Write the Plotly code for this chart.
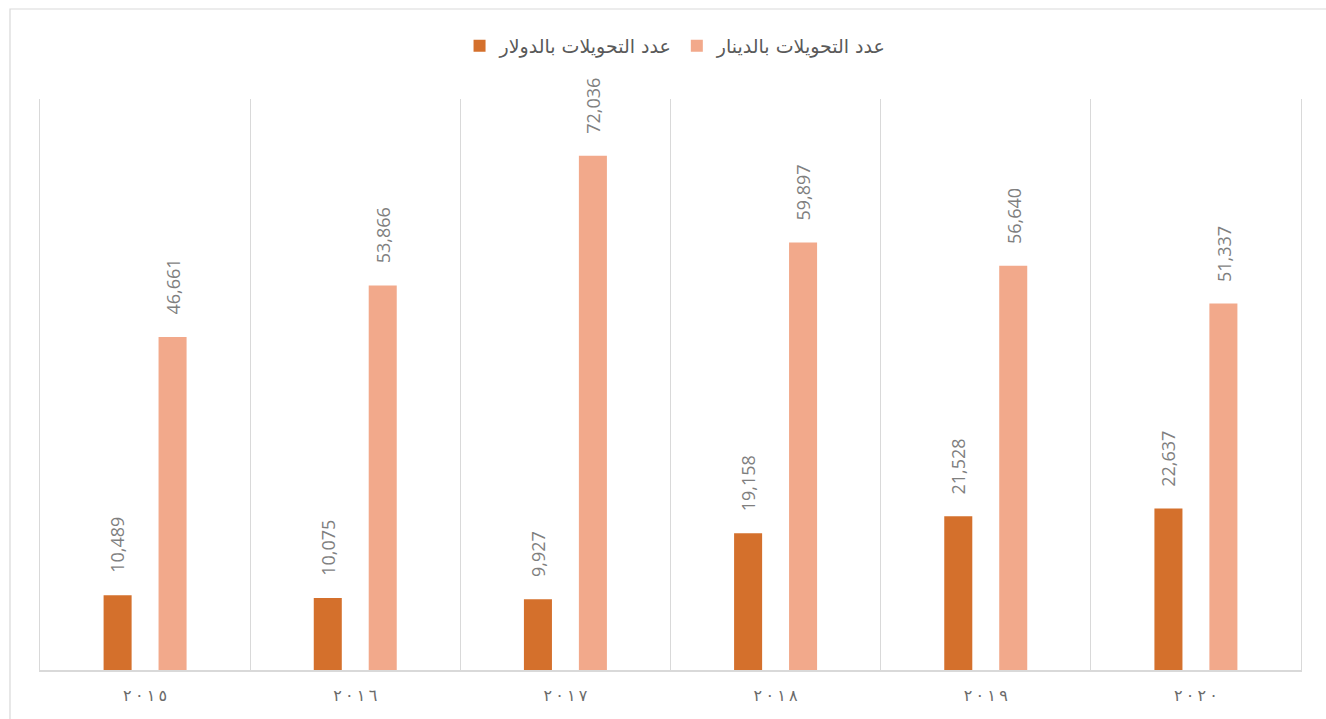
import plotly.graph_objects as go

# Yearly transfer counts
years = ["٢٠١٥", "٢٠١٦", "٢٠١٧", "٢٠١٨", "٢٠١٩", "٢٠٢٠"]
usd_transfers = [10489, 10075, 9927, 19158, 21528, 22637]
dinar_transfers = [46661, 53866, 72036, 59897, 56640, 51337]

usd_name = "عدد التحويلات بالدولار"
dinar_name = "عدد التحويلات بالدينار"

USD_COLOR = "#D4702C"
DINAR_COLOR = "#F2A98B"
GRID = "#D9D9D9"
LABEL_GRAY = "#7F7F7F"
TEXT_GRAY = "#595959"


def spaced(label):
    # open up the digit spacing; LRM marks keep the digits in reading order
    return "\u200e\u2009\u200e".join(label)


fig = go.Figure()
fig.add_trace(go.Bar(x=years, y=usd_transfers, name=usd_name,
                     marker=dict(color=USD_COLOR, line=dict(width=0))))
fig.add_trace(go.Bar(x=years, y=dinar_transfers, name=dinar_name,
                     marker=dict(color=DINAR_COLOR, line=dict(width=0))))

# Rotated value labels above each bar
annotations = []
for series, shift in ((usd_transfers, -27.5), (dinar_transfers, 27.5)):
    for yr, val in zip(years, series):
        annotations.append(dict(
            x=yr, y=val, xref="x", yref="y", xshift=shift, yshift=20,
            text=f"{val:,}", textangle=-90, showarrow=False,
            xanchor="center", yanchor="bottom",
            font=dict(family="Open Sans", size=18, color=LABEL_GRAY),
        ))

fig.update_layout(
    width=1326, height=719,
    margin=dict(l=40, r=25, t=99, b=49),
    paper_bgcolor="white", plot_bgcolor="white",
    barmode="group", bargap=0.477, bargroupgap=0.49,
    showlegend=True,
    legend=dict(orientation="h", x=0.504, xanchor="center", y=1.093, yanchor="middle",
                font=dict(family="DejaVu Sans", size=19, color=TEXT_GRAY),
                itemwidth=30),
    annotations=annotations,
    shapes=[dict(type="rect", xref="paper", yref="paper",
                 x0=-0.0238, x1=1.05, y0=-0.12, y1=1.1576,
                 line=dict(color=GRID, width=1.2), fillcolor="rgba(0,0,0,0)",
                 layer="below")],
)

fig.update_xaxes(
    type="category", tickson="boundaries", showgrid=True, gridcolor=GRID, gridwidth=1.3,
    showline=True, linecolor=GRID, linewidth=1.5, ticks="",
    tickvals=years, ticktext=[spaced(y) for y in years],
    tickfont=dict(family="DejaVu Sans", size=16, color="#6A6A6A"),
    ticklabelstandoff=10,
)
fig.update_yaxes(
    range=[0, 80000], showgrid=False, zeroline=False, showticklabels=False,
    showline=True, mirror=True, linecolor=GRID, linewidth=1.3, ticks="",
)

fig.write_html("out.html")
